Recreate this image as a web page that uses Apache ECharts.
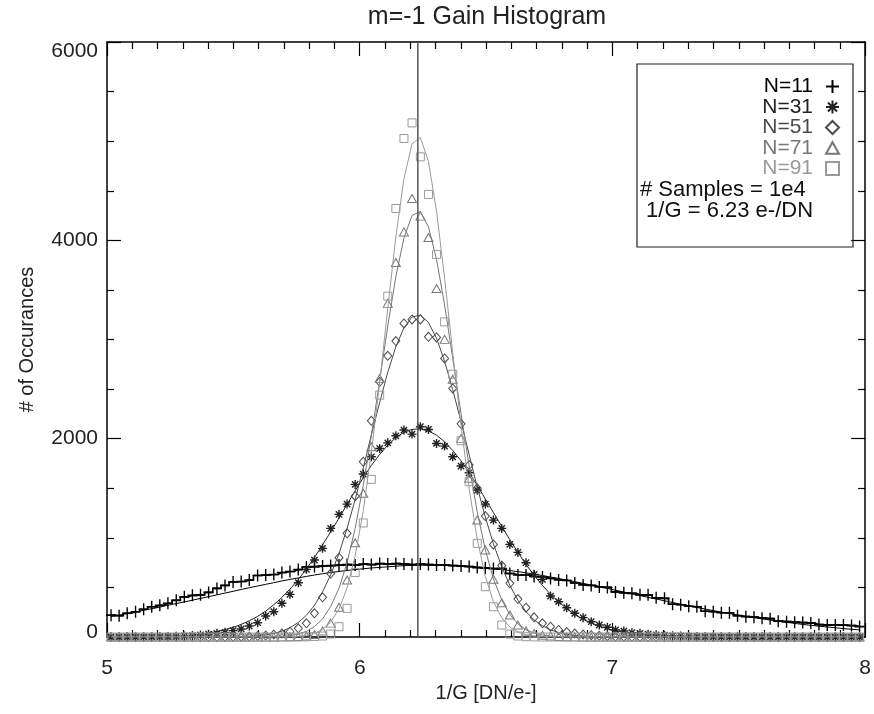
<!DOCTYPE html>
<html><head><meta charset="utf-8">
<script src="https://cdn.jsdelivr.net/npm/echarts@6/dist/echarts.min.js"></script>
<style>html,body{margin:0;padding:0;background:#fff}#c{width:874px;height:714px}</style>
</head><body><div id="c"></div>
<script>
// ---- data (bin centres of 1/G and counts per series) ----
const xBins = [
5.016,5.048,5.080,5.113,5.145,5.177,5.209,5.241,5.274,5.306,
5.338,5.370,5.402,5.435,5.467,5.499,5.531,5.563,5.596,5.628,
5.660,5.692,5.724,5.757,5.789,5.821,5.853,5.885,5.918,5.950,
5.982,6.014,6.046,6.079,6.111,6.143,6.175,6.207,6.240,6.272,
6.304,6.336,6.368,6.401,6.433,6.465,6.497,6.529,6.562,6.594,
6.626,6.658,6.690,6.723,6.755,6.787,6.819,6.851,6.884,6.916,
6.948,6.980,7.012,7.045,7.077,7.109,7.141,7.173,7.206,7.238,
7.270,7.302,7.334,7.367,7.399,7.431,7.463,7.495,7.528,7.560,
7.592,7.624,7.656,7.689,7.721,7.753,7.785,7.817,7.850,7.882,
7.914,7.946,7.978];

const n11 = [
220,215,240,255,280,305,320,340,370,405,
420,425,450,490,520,555,560,575,620,625,
630,650,660,680,705,710,715,720,725,730,
725,735,730,740,735,740,735,730,735,730,
725,725,720,715,710,700,695,690,690,640,
625,625,610,605,590,575,570,545,525,520,
505,500,455,445,440,425,425,395,390,330,
325,310,305,260,255,245,245,215,205,200,
190,185,160,155,150,145,140,125,120,120,
120,115,105];

const n31 = [
0,0,0,0,1,2,3,5,7,10,
14,20,28,37,47,64,81,111,144,212,
255,340,430,547,682,776,894,1095,1237,1340,
1539,1643,1817,1901,1958,2029,2087,2046,2120,2093,
1952,1925,1817,1724,1656,1480,1340,1179,1095,934,
853,749,632,581,413,356,295,239,195,154,
121,98,71,60,43,37,28,22,18,12,
10,8,5,4,3,2,2,1,1,0,
0,0,0,0,0,0,0,0,0,0,
0,0,0];

const n51 = [
0,0,0,0,0,0,0,0,0,0,
0,0,0,0,1,2,3,5,9,15,
24,35,54,88,138,239,400,640,800,1045,
1420,1767,2180,2573,2836,2984,3162,3202,3202,3027,
3021,2809,2507,2150,1734,1500,1220,934,720,541,
383,295,198,138,104,71,50,35,25,18,
12,8,5,3,2,1,0,0,0,0,
0,0,0,0,0,0,0,0,0,0,
0,0,0,0,0,0,0,0,0,0,
0,0,0];

const n71 = [
0,0,0,0,0,0,0,0,0,0,
0,0,0,0,0,0,0,0,0,0,
0,1,3,5,10,25,60,140,300,575,
950,1450,1918,2608,3364,3777,4085,4422,4244,4029,
3515,3001,2600,2003,1600,1179,877,582,346,222,
121,60,35,18,10,5,3,1,0,0,
0,0,0,0,0,0,0,0,0,0,
0,0,0,0,0,0,0,0,0,0,
0,0,0,0,0,0,0,0,0,0,
0,0,0];

const n91 = [
0,0,0,0,0,0,0,0,0,0,
0,0,0,0,0,0,0,0,0,0,
0,0,0,0,2,5,10,30,104,289,
650,1150,1590,2439,3437,4321,5027,5184,4842,4463,
3858,3178,2650,1979,1566,944,507,305,121,30,
10,3,1,0,0,0,0,0,0,0,
0,0,0,0,0,0,0,0,0,0,
0,0,0,0,0,0,0,0,0,0,
0,0,0,0,0,0,0,0,0,0,
0,0,0];

// fitted curves at the same bins
const fit11 = [
205,220,236,252,269,285,302,320,337,354,
371,389,407,425,443,461,479,497,514,531,
548,565,581,596,611,625,638,650,661,671,
680,688,696,702,708,714,719,722,724,725,
725,724,721,717,712,705,698,689,680,670,
659,647,634,620,605,590,574,558,541,524,
507,490,472,454,436,418,400,383,365,348,
331,314,298,282,266,251,236,222,208,195,
183,171,159,148,137,127,118,109,101,93,
85,78,72];

const fit31 = [
0,0,0,1,2,3,5,7,11,15,
22,30,41,55,74,97,127,163,208,261,
325,399,483,579,686,803,929,1061,1198,1337,
1475,1607,1730,1841,1935,2011,2064,2094,2099,2079,
2035,1968,1881,1777,1658,1529,1393,1255,1116,981,
853,732,621,521,431,353,286,228,180,141,
109,83,62,46,34,25,18,13,9,6,
4,3,2,1,0,0,0,0,0,0,
0,0,0,0,0,0,0,0,0,0,
0,0,0];

const fit51 = [
0,0,0,0,0,0,0,0,0,0,
0,0,0,0,1,2,4,7,12,21,
36,59,94,146,219,320,455,627,841,1096,
1387,1705,2038,2366,2670,2927,3118,3227,3246,3172,
3013,2780,2493,2172,1839,1512,1209,939,709,520,
370,256,172,113,72,44,27,15,9,5,
3,2,1,0,0,0,0,0,0,0,
0,0,0,0,0,0,0,0,0,0,
0,0,0,0,0,0,0,0,0,0,
0,0,0];

const fit71 = [
0,0,0,0,0,0,0,0,0,0,
0,0,0,0,0,0,0,0,0,1,
3,7,15,30,57,105,183,307,491,751,
1096,1528,2033,2584,3136,3634,4023,4251,4291,4136,
3807,3347,2810,2252,1724,1260,880,587,373,227,
132,73,39,20,9,4,2,1,0,0,
0,0,0,0,0,0,0,0,0,0,
0,0,0,0,0,0,0,0,0,0,
0,0,0,0,0,0,0,0,0,0,
0,0,0];

const fit91 = [
0,0,0,0,0,0,0,0,0,0,
0,0,0,0,0,0,0,0,0,0,
0,1,3,7,16,36,76,150,281,495,
818,1273,1863,2563,3317,4036,4621,4974,5036,4796,
4295,3617,2866,2135,1496,986,611,356,195,100,
49,22,10,4,2,1,0,0,0,0,
0,0,0,0,0,0,0,0,0,0,
0,0,0,0,0,0,0,0,0,0,
0,0,0,0,0,0,0,0,0,0,
0,0,0];

const seriesNames = ['N=11','N=31','N=51','N=71','N=91'];
const gainValue = 6.23;
const xRange = [5, 8];
const yRange = [0, 6000];
const infoLines = ['# Samples = 1e4', ' 1/G = 6.23 e-/DN'];
const titleText = 'm=-1 Gain Histogram';

// ---- styling ----
const FONT = '"Liberation Sans", Arial, Helvetica, sans-serif';
const colors = ['#000000', '#222222', '#4a4a4a', '#777777', '#9a9a9a'];
const symbols = [
  'path://M0,5L10,5M5,0L5,10',
  'path://M0,5L10,5M5,0L5,10M1.5,1.5L8.5,8.5M8.5,1.5L1.5,8.5',
  'path://M5,0L10,5L5,10L0,5Z',
  'path://M5,0L10,9L0,9Z',
  'path://M0,0L10,0L10,10L0,10Z'
];
const symSizes = [[10,12],[9,9],[8,9],[9,8],[8,8]];
const symWidths = [1.5, 1.4, 1, 1, 1];
const dataSets = [n11, n31, n51, n71, n91];
const fitSets = [fit11, fit31, fit51, fit71, fit91];

const pairs = a => xBins.map((x, i) => [x, a[i]]);

function xAx(pos, showLabel) {
  return {
    type: 'value', min: xRange[0], max: xRange[1], interval: 1, position: pos,
    axisLine: {show: true, onZero: false, lineStyle: {color: '#000', width: 1.5}},
    axisTick: {show: true, inside: true, length: 14, lineStyle: {color: '#000', width: 1.2}},
    minorTick: {show: true, splitNumber: 10, length: 7, lineStyle: {color: '#000', width: 1.2}},
    splitLine: {show: false},
    axisLabel: {show: showLabel, fontSize: 21, color: '#222', margin: 21, fontFamily: FONT},
    name: showLabel ? '1/G [DN/e-]' : '', nameLocation: 'middle', nameGap: 45,
    nameTextStyle: {fontSize: 20, color: '#222', fontFamily: FONT}
  };
}
function yAx(pos, showLabel) {
  return {
    type: 'value', min: yRange[0], max: yRange[1], interval: 2000, position: pos,
    axisLine: {show: true, onZero: false, lineStyle: {color: '#000', width: 1.5}},
    axisTick: {show: true, inside: true, length: 14, lineStyle: {color: '#000', width: 1.2}},
    minorTick: {show: true, splitNumber: 4, length: 7, lineStyle: {color: '#000', width: 1.2}},
    splitLine: {show: false},
    axisLabel: {
      show: showLabel, fontSize: 21, color: '#222', margin: 9, fontFamily: FONT,
      formatter: v => v === yRange[1] ? '{t|' + v + '}' : (v === yRange[0] ? '{b|' + v + '}' : String(v)),
      rich: {
        t: {fontSize: 21, color: '#222', fontFamily: FONT, padding: [18, 0, 0, 0]},
        b: {fontSize: 21, color: '#222', fontFamily: FONT, padding: [0, 0, 9, 0]}
      }
    },
    name: showLabel ? '# of Occurances' : '', nameLocation: 'middle', nameGap: 70,
    nameTextStyle: {fontSize: 20, color: '#222', fontFamily: FONT}
  };
}

const series = [];
series.push({
  type: 'line', name: 'hist11', step: 'middle', data: pairs(n11), symbol: 'none',
  lineStyle: {color: '#000', width: 1.6}, z: 2, silent: true
});
for (let k = 0; k < 5; k++) {
  series.push({
    type: 'line', name: 'fit' + k, data: pairs(fitSets[k]), symbol: 'none',
    lineStyle: {color: colors[k], width: 1}, z: 2 + k * 2, silent: true
  });
  series.push({
    type: 'scatter', name: seriesNames[k], data: pairs(dataSets[k]),
    symbol: symbols[k], symbolSize: symSizes[k], clip: false,
    itemStyle: {color: 'rgba(0,0,0,0)', borderColor: colors[k], borderWidth: symWidths[k], opacity: 1},
    z: 3 + k * 2, silent: true
  });
}
series.push({
  type: 'line', name: 'gain', data: [[gainValue, yRange[0]], [gainValue, yRange[1]]],
  symbol: 'none', lineStyle: {color: '#555', width: 1.5}, z: 20, silent: true
});

const option = {
  animation: false,
  backgroundColor: '#fff',
  textStyle: {fontFamily: FONT},
  grid: {left: 107, right: 8, top: 42, bottom: 77, containLabel: false},
  xAxis: [xAx('bottom', true), xAx('top', false)],
  yAxis: [yAx('left', true), yAx('right', false)],
  legend: {
    orient: 'vertical', right: 34, top: 76, align: 'right',
    itemWidth: 13, itemHeight: 13, itemGap: -0.5, padding: 0,
    data: seriesNames.map((n, k) => ({name: n, textStyle: {color: colors[k]}})),
    textStyle: {fontSize: 21, lineHeight: 20, fontFamily: FONT, padding: [0, 8, 0, 0]},
    selectedMode: false
  },
  graphic: [
    {type: 'rect', shape: {x: 637, y: 64, width: 216, height: 183},
     style: {fill: 'none', stroke: '#222', lineWidth: 1.2}, z: 30},
    {type: 'text', x: 640, y: 190, style: {text: infoLines[0], fontSize: 22, fontFamily: FONT, fill: '#111', verticalAlign: 'middle'}, z: 30},
    {type: 'text', x: 640, y: 211, style: {text: infoLines[1], fontSize: 22, fontFamily: FONT, fill: '#111', verticalAlign: 'middle'}, z: 30},
    {type: 'text', x: 487, y: 17, style: {text: titleText, fontSize: 25, fontFamily: FONT, fill: '#222', align: 'center', verticalAlign: 'middle'}, z: 30}
  ],
  series: series
};
const chart = echarts.init(document.getElementById('c'));
chart.setOption(option);
</script>
</body></html>
